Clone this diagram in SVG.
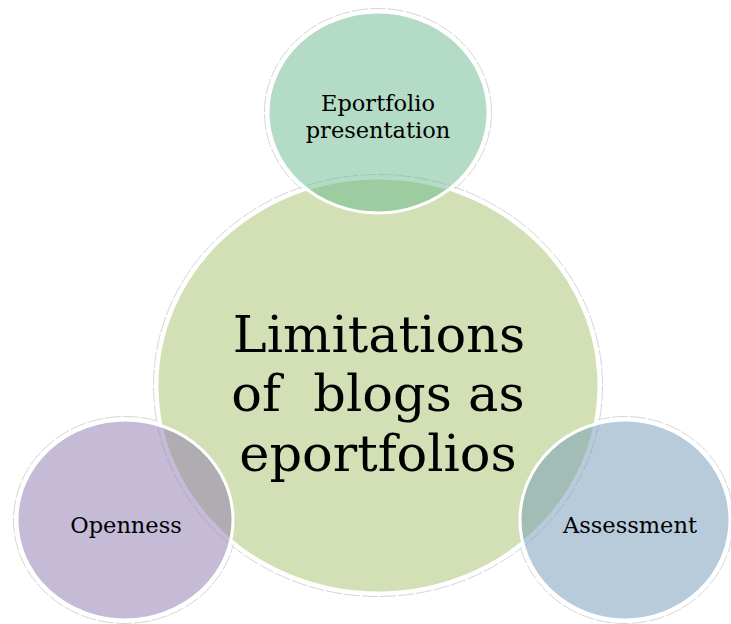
<svg xmlns="http://www.w3.org/2000/svg" width="731" height="624" viewBox="0 0 731 624">
<style>
.halo{fill:none;stroke:#d6d6d6;stroke-width:1;stroke-dasharray:16 2}
.shape{stroke:#ffffff;stroke-width:3}
.lbl{font-family:"DejaVu Serif","Liberation Serif",serif;fill:#000000;text-anchor:middle}
.small{font-size:22.5px}
.big{font-size:51px;white-space:pre}
</style>
<rect width="731" height="624" fill="#ffffff"/>
<g id="halos">
<ellipse class="halo" cx="378" cy="385.5" rx="224.5" ry="211"/>
<ellipse class="halo" cx="378" cy="112.5" rx="113.5" ry="104"/>
<ellipse class="halo" cx="125" cy="520" rx="111.5" ry="103.5"/>
<ellipse class="halo" cx="625" cy="520" rx="108.5" ry="103.5"/>
</g>
<g id="center">
<ellipse class="shape" cx="378" cy="385.5" rx="221" ry="207.5" fill="#d3e0b5"/>
<text class="lbl big" x="379" y="352">Limitations</text>
<text class="lbl big" x="378" y="411" xml:space="preserve">of  blogs as</text>
<text class="lbl big" x="378" y="471">eportfolios</text>
</g>
<g id="top">
<ellipse class="shape" cx="378" cy="112.5" rx="110" ry="100.5" fill="#67b78d" fill-opacity="0.5"/>
<text class="lbl small" x="378" y="111">Eportfolio</text>
<text class="lbl small" x="378" y="138">presentation</text>
</g>
<g id="left">
<ellipse class="shape" cx="125" cy="520" rx="108" ry="100" fill="#8b77af" fill-opacity="0.5"/>
<text class="lbl small" x="126" y="533">Openness</text>
</g>
<g id="right">
<ellipse class="shape" cx="625" cy="520" rx="105" ry="100" fill="#7197b7" fill-opacity="0.5"/>
<text class="lbl small" x="630" y="533">Assessment</text>
</g>
<g id="connectors"/>
</svg>
